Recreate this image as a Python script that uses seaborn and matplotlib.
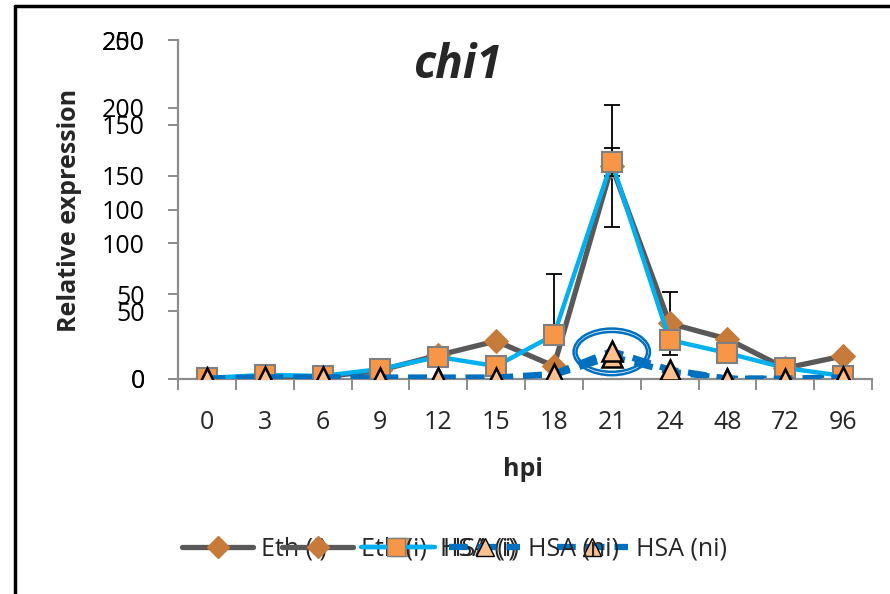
import matplotlib
matplotlib.use("Agg")
import matplotlib.pyplot as plt
import seaborn as sns
import pandas as pd
import numpy as np
from matplotlib.lines import Line2D
from matplotlib.patches import Ellipse

sns.set_theme(style="white")
plt.rcParams['font.family'] = ['Open Sans', 'DejaVu Sans']

# ---- data ----
hpi = ["0", "3", "6", "9", "12", "15", "18", "21", "24", "48", "72", "96"]
eth_i = [0.5, 1.5, 1.5, 6.5, 17.5, 28, 9.5, 157, 41, 29.5, 8, 17]          # left scale 0-250
eth_err = [0, 0, 0, 0, 3, 0, 0, 45, 23, 0, 0, 0]
hsa_i = [0.6, 2.4, 1.8, 5.9, 13, 7.6, 26, 128, 23, 15.3, 6.5, 1.8]         # second scale 0-200
hsa_err_lo = [0, 0, 0, 0, 0, 0, 6, 8, 2, 0, 0, 0]
hsa_err_hi = [0, 0, 0, 0, 0, 0, 36, 8, 2, 0, 0, 0]
hsa_ni = [0.3, 1, 1, 0.8, 0.8, 0.8, 3, 16.5, 5.5, 0.2, 0.2, 1]
ticks_a = [0, 50, 100, 150, 200, 250]
ticks_b = [0, 50, 100, 150, 200]
labels = ["Eth (i)", "HSA (i)", "HSA (ni)"]

GREY = "#595959"
DIAM = "#C77B3A"
LBLUE = "#00B0F0"
SQ = "#F79646"
DBLUE = "#0070C0"
TRI = "#FAC090"
AXC = "#8C8C8C"
FS = 18

pos = np.arange(len(hpi))
df = pd.DataFrame({"pos": pos, "hpi": hpi, "eth_i": eth_i, "hsa_i": hsa_i, "hsa_ni": hsa_ni})

fig = plt.figure(figsize=(8.9, 5.94), dpi=100)
ax = fig.add_axes([178/890, 1-379/594, (872-178)/890, (379-40)/594])
ax2 = ax.twinx()

def style_ni(line):
    line.set_dashes([3, 1.6])
    line.set_marker("^"); line.set_markersize(14)
    line.set_markerfacecolor(TRI); line.set_markeredgecolor("black")
    line.set_markeredgewidth(1.8)

# primary axis series
sns.lineplot(data=df, x="pos", y="hsa_ni", ax=ax, color=DBLUE, lw=4.5, zorder=2)
style_ni(ax.lines[-1])
ax.errorbar(pos, eth_i, yerr=[eth_err, eth_err], fmt="none", ecolor="black",
            elinewidth=1.3, capsize=6, capthick=1.3, zorder=3)
sns.lineplot(data=df, x="pos", y="eth_i", ax=ax, color=GREY, lw=3.8,
             marker="D", markersize=12, markerfacecolor=DIAM, markeredgecolor=DIAM,
             zorder=4)

# secondary axis series
ax2.errorbar(pos, hsa_i, yerr=[hsa_err_lo, hsa_err_hi], fmt="none", ecolor="black",
             elinewidth=1.3, capsize=6, capthick=1.3, zorder=2)
sns.lineplot(data=df, x="pos", y="hsa_i", ax=ax2, color=LBLUE, lw=3.2,
             marker="s", markersize=14, markerfacecolor=SQ, markeredgecolor="#7F7F7F",
             markeredgewidth=1.5, zorder=3)
sns.lineplot(data=df, x="pos", y="hsa_ni", ax=ax2, color=DBLUE, lw=4.5, zorder=4)
style_ni(ax2.lines[-1])

# highlight ellipse around 21 hpi
i21 = hpi.index("21")
for w, h in [(1.32, 27.5), (1.22, 23.5)]:
    ax2.add_patch(Ellipse((i21, hsa_ni[i21] - 0.5), w, h, fill=False, ec=DBLUE,
                          lw=1.8, zorder=5))

# axes styling
for a in (ax, ax2):
    a.set_xlim(-0.5, len(hpi) - 0.5)
    a.set_xlabel(""); a.set_ylabel("")
    for s in a.spines.values():
        s.set_visible(False)
    a.patch.set_visible(False)
ax.spines["left"].set_visible(True); ax.spines["left"].set_color(AXC)
ax.spines["bottom"].set_visible(True); ax.spines["bottom"].set_color(AXC)
ax.spines["left"].set_linewidth(1.6); ax.spines["bottom"].set_linewidth(1.6)

ax.set_ylim(0, 250)
ax2.set_ylim(0, 200)
ax.set_yticks(ticks_a)
ax.set_yticklabels([str(t) for t in ticks_a], fontsize=FS)
ax2.set_yticks(ticks_b)
ax2.set_yticklabels([str(t) for t in ticks_b], fontsize=FS)
ax2.yaxis.tick_left()
for a in (ax, ax2):
    a.tick_params(axis="y", direction="out", length=7, width=1.4, color=AXC,
                  pad=17, labelcolor="black", left=True, right=False)

ax.set_xticks(pos)
ax.set_xticklabels(hpi, fontsize=FS)
ax.set_xticks(np.arange(-0.5, len(hpi)), minor=True)
ax.tick_params(axis="x", which="major", length=0, pad=22, bottom=True, labelbottom=True)
ax.tick_params(axis="x", which="minor", direction="out", length=8, width=1.4,
               color=AXC, bottom=True)
ax2.tick_params(axis="x", which="both", bottom=False, top=False,
                labelbottom=False, labeltop=False)

# texts
fig.text(458/890, 1-66/594, "chi1", ha="center", va="center", fontsize=33,
         fontweight="bold", style="italic")
fig.text(70/890, 1-210/594, "Relative expression", ha="center", va="center",
         rotation=90, fontsize=FS, fontweight="bold")
fig.text(523/890, 1-470/594, "hpi", ha="center", va="center", fontsize=FS,
         fontweight="bold")

# legends (two overlapping legends)
def handles():
    return [
        Line2D([], [], color=GREY, lw=3.8, marker="D", markersize=11,
               markerfacecolor=DIAM, markeredgecolor=DIAM),
        Line2D([], [], color=LBLUE, lw=3.2, marker="s", markersize=13,
               markerfacecolor=SQ, markeredgecolor="#7F7F7F"),
        Line2D([], [], color=DBLUE, lw=4.5, dashes=[3, 1.6], marker="^",
               markersize=13, markerfacecolor=TRI, markeredgecolor="black"),
    ]
legA = fig.legend(handles(), labels, loc="center left", bbox_to_anchor=(182/890, 1-549/594),
                  ncol=3, frameon=False, fontsize=FS, handlelength=2.84, borderpad=0,
                  borderaxespad=0, handletextpad=0.32, columnspacing=1.5)
legB = fig.legend(handles(), labels, loc="center left", bbox_to_anchor=(282/890, 1-549/594),
                  ncol=3, frameon=False, fontsize=FS, handlelength=2.84, borderpad=0,
                  borderaxespad=0, handletextpad=0.32, columnspacing=-2.65)

# outer frame lines
fig.add_artist(Line2D([15/890, 15/890], [0, 1-6/594], color="black", lw=2.5,
                      transform=fig.transFigure))
fig.add_artist(Line2D([15/890, 1], [1-6/594, 1-6/594], color="black", lw=2.5,
                      transform=fig.transFigure))

fig.savefig("out.png", dpi=100)
